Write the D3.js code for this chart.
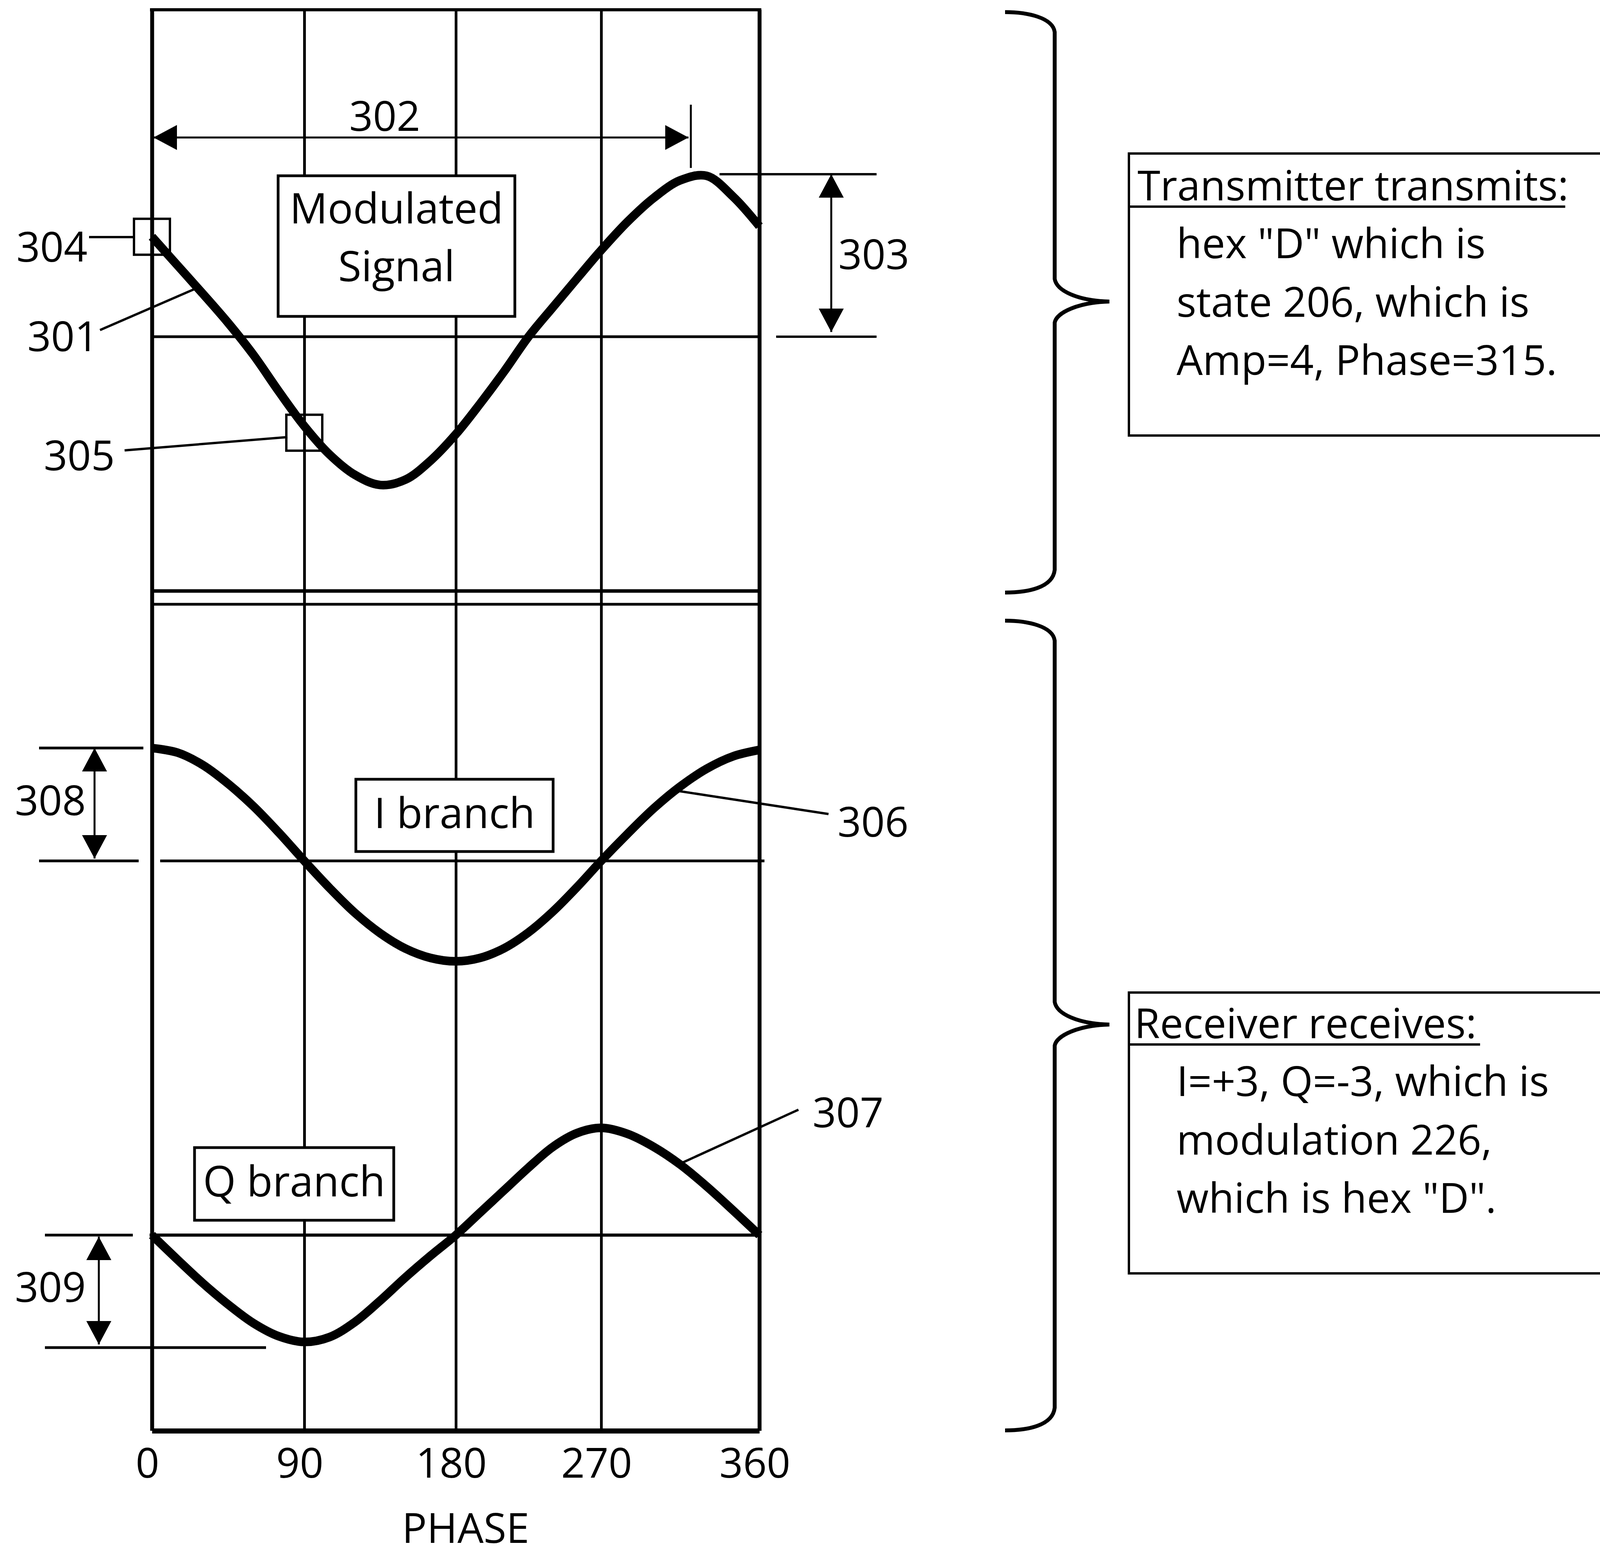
<!DOCTYPE html>
<html>
<head>
<meta charset="utf-8">
<script src="https://cdn.jsdelivr.net/npm/d3@7"></script>
<style>
  html, body { margin: 0; padding: 0; background: #fff; overflow: hidden; }
  svg { display: block; }
  svg text { font-family: "Open Sans", sans-serif; fill: #000; }
</style>
</head>
<body>
<svg id="chart" width="4150" height="3981"></svg>
<script>
// Phase samples (degrees) and the curve values (amplitude units)
var phases = [0, 15, 30, 45, 60, 75, 90, 105, 120, 135, 150, 165, 180,
              195, 210, 225, 240, 255, 270, 285, 300, 315, 330, 345, 360];
var modulated = [2.46, 1.76, 1.06, 0.34, -0.45, -1.35, -2.2, -2.9, -3.4, -3.65, -3.52, -3.05, -2.4,
                 -1.65, -0.85, 0.0, 0.72, 1.43, 2.13, 2.83, 3.42, 3.85, 3.96, 3.45, 2.72];
var iBranch = [3.0, 2.88, 2.55, 2.05, 1.45, 0.75, 0.0, -0.72, -1.38, -1.92, -2.33, -2.58, -2.67,
               -2.58, -2.32, -1.9, -1.35, -0.7, 0.0, 0.72, 1.4, 1.98, 2.45, 2.78, 2.95];
var qBranch = [0.0, -0.65, -1.28, -1.85, -2.35, -2.7, -2.85, -2.72, -2.32, -1.75, -1.13, -0.55, 0.0,
               0.6, 1.2, 1.8, 2.35, 2.72, 2.86, 2.7, 2.35, 1.88, 1.3, 0.66, 0.0];
var phaseTicks = [0, 90, 180, 270, 360];

// reference values marked on the drawing
var peakPhase = 321;  // end of dimension 302
var modAmp = 4;       // 303
var iAmp = 3;         // 308
var qAmp = -3;        // 309

var transmitterHead = 'Transmitter transmits:';
var transmitterLines = ['hex "D" which is', 'state 206, which is', 'Amp=4, Phase=315.'];
var receiverHead = 'Receiver receives:';
var receiverLines = ['I=+3, Q=-3, which is', 'modulation 226,', 'which is hex "D".'];

// ---- layout ----
var FRAME = { left: 389, right: 1944, top: 25, bottom: 3663 };
var FONT = 106;

var svg = d3.select('#chart');

// hand-drawn grid is not evenly spaced, so use a polylinear scale
var x = d3.scaleLinear().domain(phaseTicks).range([389, 779, 1167, 1539, 1944]);

function panelScale(zero, unit) {
  return d3.scaleLinear().domain([-4, 4]).range([zero + 4 * unit, zero - 4 * unit]);
}
var yMod = panelScale(862, 104);
var yI = panelScale(2204, 96.3);
var yQ = panelScale(3162, 96);

// arrow heads
var defs = svg.append('defs');
defs.append('marker')
  .attr('id', 'arrow')
  .attr('viewBox', '0 0 60 64')
  .attr('refX', 60).attr('refY', 32)
  .attr('markerWidth', 60).attr('markerHeight', 64)
  .attr('markerUnits', 'userSpaceOnUse')
  .attr('orient', 'auto-start-reverse')
  .append('path').attr('d', 'M0,0L60,32L0,64Z').attr('fill', '#000');

// grid + phase axis
var axis = svg.append('g')
  .attr('transform', 'translate(0,' + FRAME.bottom + ')')
  .call(d3.axisBottom(x)
    .tickValues(phaseTicks)
    .tickSizeInner(-(FRAME.bottom - FRAME.top))
    .tickSizeOuter(0)
    .tickPadding(45));
axis.attr('font-size', FONT).attr('font-family', '"Open Sans", sans-serif');
axis.select('.domain').attr('stroke', '#000').attr('stroke-width', 13);
axis.selectAll('.tick line').attr('stroke', '#000')
  .attr('stroke-width', function(d) { return (d === 0 || d === 360) ? 10 : 7; });
axis.selectAll('.tick text').attr('fill', '#000').attr('dx', -12);

// top frame edge
svg.append('line')
  .attr('x1', FRAME.left - 5).attr('x2', FRAME.right + 5)
  .attr('y1', FRAME.top).attr('y2', FRAME.top)
  .attr('stroke', '#000').attr('stroke-width', 8);

// separator between transmit and receive panels
[[1513, 9], [1547, 7]].forEach(function(s) {
  svg.append('line')
    .attr('x1', FRAME.left).attr('x2', FRAME.right)
    .attr('y1', s[0]).attr('y2', s[0])
    .attr('stroke', '#000').attr('stroke-width', s[1]);
});

// plain lines: zero lines, extension lines, leaders
function seg(x1, y1, x2, y2, w) {
  return svg.append('line')
    .attr('x1', x1).attr('y1', y1).attr('x2', x2).attr('y2', y2)
    .attr('stroke', '#000').attr('stroke-width', w || 5);
}

// zero lines
seg(x(0), yMod(0), x(360), yMod(0), 7);
seg(410, yI(0), 1957, yI(0), 7);
seg(383, yQ(0), 1945, yQ(0), 8);

// extension lines
seg(1842, yMod(modAmp), 2244, yMod(modAmp), 6);
seg(1987, yMod(0), 2244, yMod(0), 6);
seg(100, yI(iAmp), 367, yI(iAmp), 7);
seg(100, yI(0), 355, yI(0), 7);
seg(115, yQ(0), 340, yQ(0), 7);
seg(115, yQ(qAmp), 681, yQ(qAmp), 7);
seg(x(peakPhase), 268, x(peakPhase), 430, 5);

// dimension arrows
function dim(x1, y1, x2, y2) {
  seg(x1, y1, x2, y2, 5)
    .attr('marker-start', 'url(#arrow)')
    .attr('marker-end', 'url(#arrow)');
}
dim(x(0) + 4, 352, x(peakPhase) - 6, 352);
dim(2128, yMod(modAmp), 2128, yMod(0) - 12);
dim(242, yI(iAmp), 242, yI(0) - 6);
dim(253, yQ(0) + 4, 253, yQ(qAmp) - 8);

// signal curves
function drawCurve(values, y) {
  var line = d3.line()
    .x(function(d, i) { return x(phases[i]); })
    .y(function(d) { return y(d); })
    .curve(d3.curveCatmullRom.alpha(0.5));
  svg.append('path')
    .datum(values)
    .attr('d', line)
    .attr('fill', 'none')
    .attr('stroke', '#000')
    .attr('stroke-width', 22)
    .attr('stroke-linejoin', 'round');
}
drawCurve(modulated, yMod);
drawCurve(iBranch, yI);
drawCurve(qBranch, yQ);

// marker squares 304 / 305
var SQ = 92;
[[x(0), yMod(modulated[0])], [x(90), yMod(modulated[6]) + 17]].forEach(function(p) {
  svg.append('rect')
    .attr('x', p[0] - SQ / 2).attr('y', p[1] - SQ / 2)
    .attr('width', SQ).attr('height', SQ)
    .attr('fill', 'none').attr('stroke', '#000').attr('stroke-width', 6);
});

// leaders
seg(228, 607, x(0) - SQ / 2, 607, 6);     // 304
seg(256, 845, 498, 740, 6);               // 301
seg(319, 1153, 736, 1119, 6);             // 305
seg(1730, 2024, 2121, 2084, 6);           // 306
seg(1746, 2977, 2044, 2841, 6);           // 307

// label boxes inside the plot
var boxes = [
  { x: 712, y: 450, w: 606, h: 360, lines: [['Modulated', 572], ['Signal', 720]] },
  { x: 911, y: 1995, w: 505, h: 185, lines: [['I branch', 2120]] },
  { x: 498, y: 2938, w: 510, h: 186, lines: [['Q branch', 3063]] }
];
boxes.forEach(function(b) {
  svg.append('rect')
    .attr('x', b.x).attr('y', b.y).attr('width', b.w).attr('height', b.h)
    .attr('fill', '#fff').attr('stroke', '#000').attr('stroke-width', 7);
  b.lines.forEach(function(l) {
    svg.append('text')
      .attr('x', b.x + b.w / 2).attr('y', l[1])
      .attr('text-anchor', 'middle')
      .attr('font-size', FONT + 2)
      .text(l[0]);
  });
});

// reference numerals
var refs = [
  ['302', 985, 335, 'middle'], ['304', 42, 670], ['301', 70, 899], ['305', 112, 1204],
  ['303', 2146, 689], ['308', 38, 2087], ['306', 2144, 2142], ['307', 2080, 2886],
  ['309', 38, 3333], ['PHASE', 1192, 3950, 'middle']
];
refs.forEach(function(r) {
  svg.append('text')
    .attr('x', r[1]).attr('y', r[2])
    .attr('text-anchor', r[3] || 'start')
    .attr('font-size', FONT)
    .text(r[0]);
});

// side boxes
function sideBox(b, head, lines) {
  svg.append('rect')
    .attr('x', b.x).attr('y', b.y).attr('width', b.w).attr('height', b.h)
    .attr('fill', 'none').attr('stroke', '#000').attr('stroke-width', 6);
  svg.append('text').attr('x', b.headX).attr('y', b.headY)
    .attr('font-size', FONT).text(head);
  seg(b.x, b.headY + 16, b.ulEnd, b.headY + 16, 6);
  lines.forEach(function(t, i) {
    svg.append('text')
      .attr('x', 3012).attr('y', b.headY + 148 + i * 149.5)
      .attr('font-size', FONT).text(t);
  });
}
sideBox({ x: 2890, y: 393, w: 1400, h: 722, headX: 2912, headY: 513, ulEnd: 4007 },
  transmitterHead, transmitterLines);
sideBox({ x: 2890, y: 2541, w: 1233, h: 719, headX: 2904, headY: 2658, ulEnd: 3789 },
  receiverHead, receiverLines);

// curly braces
function brace(top, tip, bottom) {
  var xe = 2573, xv = 2700, xt = 2840;
  var p = d3.path();
  p.moveTo(xe, top);
  p.bezierCurveTo(2630, top, 2695, top + 14, xv, top + 51);
  p.lineTo(xv, tip - 58);
  p.bezierCurveTo(2705, tip - 27, 2760, tip - 2, xt, tip);
  p.bezierCurveTo(2760, tip + 2, 2705, tip + 28, xv, tip + 54);
  p.lineTo(xv, bottom - 58);
  p.bezierCurveTo(2695, bottom - 12, 2630, bottom, xe, bottom);
  svg.append('path').attr('d', p.toString())
    .attr('fill', 'none').attr('stroke', '#000').attr('stroke-width', 10);
}
brace(31, 772, 1517);
brace(1589, 2623, 3662);
</script>
</body>
</html>
